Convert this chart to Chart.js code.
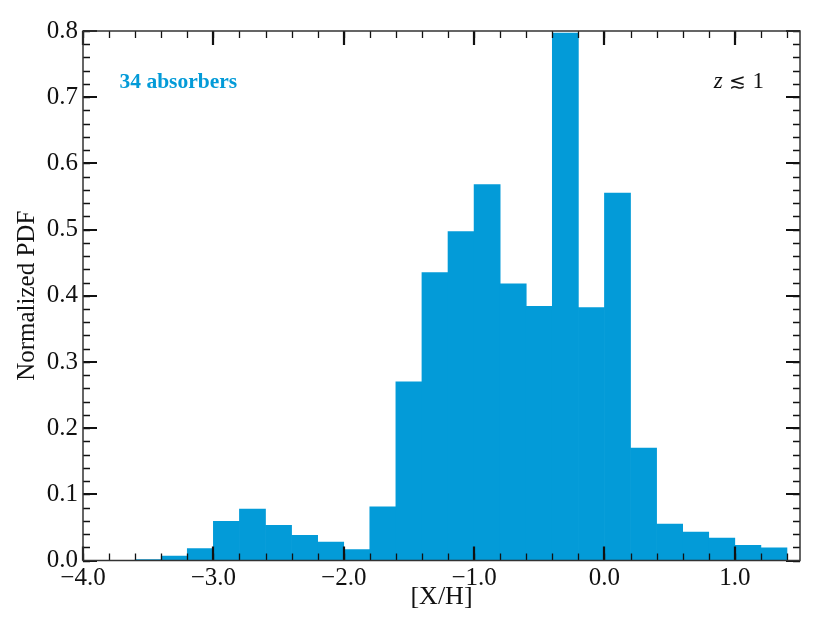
<!DOCTYPE html>
<html>
<head>
<meta charset="utf-8">
<script src="https://cdn.jsdelivr.net/npm/chart.js@4.4.1/dist/chart.umd.min.js"></script>
<style>
  html, body { margin: 0; padding: 0; background: #ffffff; }
  #wrap { width: 830px; height: 623px; }
</style>
</head>
<body>
<div id="wrap"><canvas id="pdfChart" width="830" height="623"></canvas></div>
<script>
// histogram bins of width 0.2 in [X/H]
const binCenters = [-3.5, -3.3, -3.1, -2.9, -2.7, -2.5, -2.3, -2.1, -1.9, -1.7, -1.5, -1.3, -1.1,
                    -0.9, -0.7, -0.5, -0.3, -0.1, 0.1, 0.3, 0.5, 0.7, 0.9, 1.1, 1.3];
const pdfValues = [0.0015, 0.0065, 0.018, 0.059, 0.0775, 0.053, 0.038, 0.028, 0.0166, 0.081, 0.270, 0.435, 0.497,
                   0.568, 0.418, 0.384, 0.797, 0.382, 0.555, 0.170, 0.055, 0.043, 0.034, 0.023, 0.019];

const xTickValues = [-4, -3, -2, -1, 0, 1];
const yTickValues = [0, 0.1, 0.2, 0.3, 0.4, 0.5, 0.6, 0.7, 0.8];
const xMinorStep = 0.2;
const yMinorStep = 0.02;

const barColor = '#039bd8';
const serif = '"Liberation Serif", "Times New Roman", serif';

// frame, inward ticks on all four sides, and the two text labels
const framePlugin = {
  id: 'frame',
  afterDatasetsDraw(chart) {
    const { ctx, chartArea: a, scales: { x, y } } = chart;
    ctx.save();

    const majorLen = 14, minorLen = 7;
    ctx.strokeStyle = '#111';

    // minor ticks
    ctx.lineWidth = 1.3;
    ctx.beginPath();
    for (let v = x.min; v <= x.max + 1e-9; v += xMinorStep) {
      const px = Math.round(x.getPixelForValue(v)) + 0.5;
      ctx.moveTo(px, a.bottom); ctx.lineTo(px, a.bottom - minorLen);
      ctx.moveTo(px, a.top); ctx.lineTo(px, a.top + minorLen);
    }
    for (let v = y.min; v <= y.max + 1e-9; v += yMinorStep) {
      const py = Math.round(y.getPixelForValue(v)) + 0.5;
      ctx.moveTo(a.left, py); ctx.lineTo(a.left + minorLen, py);
      ctx.moveTo(a.right, py); ctx.lineTo(a.right - minorLen, py);
    }
    ctx.stroke();

    // major ticks
    ctx.lineWidth = 2.2;
    ctx.beginPath();
    xTickValues.forEach(v => {
      const px = Math.round(x.getPixelForValue(v));
      ctx.moveTo(px, a.bottom); ctx.lineTo(px, a.bottom - majorLen);
      ctx.moveTo(px, a.top); ctx.lineTo(px, a.top + majorLen);
    });
    yTickValues.forEach(v => {
      const py = Math.round(y.getPixelForValue(v));
      ctx.moveTo(a.left, py); ctx.lineTo(a.left + majorLen, py);
      ctx.moveTo(a.right, py); ctx.lineTo(a.right - majorLen, py);
    });
    ctx.stroke();

    // frame
    ctx.lineWidth = 1.5;
    ctx.strokeStyle = '#333';
    ctx.strokeRect(a.left, a.top, a.right - a.left, a.bottom - a.top);

    // annotations
    ctx.fillStyle = barColor;
    ctx.font = 'bold 21.5px ' + serif;
    ctx.textAlign = 'left';
    ctx.textBaseline = 'alphabetic';
    ctx.fillText('34 absorbers', 119.5, 88);

    const parts = [
      { t: 'z', f: 'italic 23px ' + serif },
      { t: ' \u2272 ', f: '20px "DejaVu Serif", ' + serif },
      { t: '1', f: '23px ' + serif }
    ];
    let total = 0;
    parts.forEach(p => { ctx.font = p.f; p.w = ctx.measureText(p.t).width; total += p.w; });
    let cx = 761 - total + 3;
    ctx.fillStyle = '#111';
    parts.forEach(p => { ctx.font = p.f; ctx.fillText(p.t, cx, 88); cx += p.w; });

    ctx.restore();
  }
};

const fmt = v => {
  const s = Math.abs(v) < 1e-9 ? '0.0' : Number(v).toFixed(1);
  return s.replace('-', '\u2212');
};

new Chart(document.getElementById('pdfChart').getContext('2d'), {
  type: 'bar',
  data: {
    datasets: [{
      label: 'Normalized PDF',
      data: binCenters.map((c, i) => ({ x: c, y: pdfValues[i] })),
      backgroundColor: barColor,
      borderWidth: 0,
      barPercentage: 1.0,
      categoryPercentage: 1.0
    }]
  },
  options: {
    responsive: false,
    animation: false,
    devicePixelRatio: 1,
    layout: { padding: { top: 31, right: 30, left: 0, bottom: 0 } },
    plugins: {
      legend: { display: false },
      tooltip: { enabled: false }
    },
    scales: {
      x: {
        type: 'linear',
        min: -4.0,
        max: 1.5,
        offset: false,
        grid: { display: false, drawTicks: false },
        border: { display: false },
        afterBuildTicks: s => { s.ticks = xTickValues.map(v => ({ value: v })); },
        afterFit: s => { s.height = 62.5; },
        ticks: {
          color: '#111',
          padding: 3,
          maxRotation: 0,
          font: { family: serif, size: 25 },
          callback: v => fmt(v)
        },
        title: {
          display: true,
          text: '[X/H]',
          color: '#111',
          padding: { top: 0, bottom: 10 },
          font: { family: serif, size: 26 }
        }
      },
      y: {
        min: 0,
        max: 0.8,
        grid: { display: false, drawTicks: false },
        border: { display: false },
        afterBuildTicks: s => { s.ticks = yTickValues.map(v => ({ value: v })); },
        afterFit: s => { s.width = 83; },
        ticks: {
          color: '#111',
          padding: 5,
          font: { family: serif, size: 25 },
          callback: v => fmt(v)
        },
        title: {
          display: true,
          text: 'Normalized PDF',
          color: '#111',
          padding: { top: 12, bottom: 0 },
          font: { family: serif, size: 25 }
        }
      }
    }
  },
  plugins: [framePlugin]
});
</script>
</body>
</html>
